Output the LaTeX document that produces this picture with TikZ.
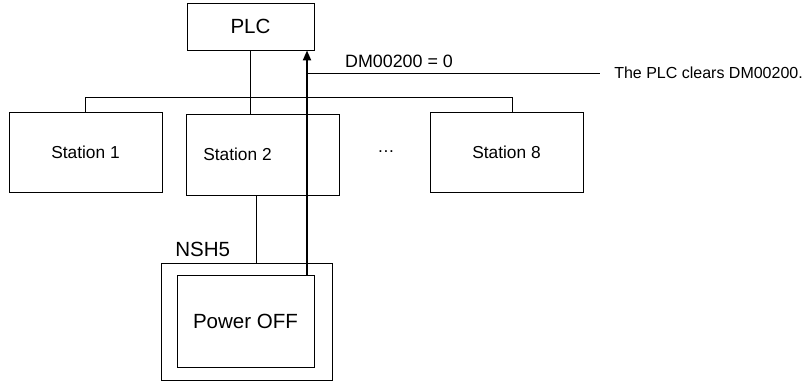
\documentclass[tikz,border=0pt]{standalone}
\usepackage{fontspec}
\setmainfont{Liberation Sans}
\usepackage{tikz}
\usetikzlibrary{arrows.meta, positioning, calc}

\begin{document}
\begin{tikzpicture}[x=0.75pt, y=-0.75pt,
    box/.style={draw, line width=0.6pt, inner sep=0pt, font=\fontsize{13}{15}\selectfont},
    bigfont/.style={font=\fontsize{15.4}{18}\selectfont},
    wire/.style={line width=0.6pt}]
  \useasboundingbox (0,0) rectangle (803,383);
  % controller and stations
  \node[box, bigfont, minimum width=95.25pt, minimum height=35.25pt] (plc) at (250.5,26.5) {PLC};
  \node[box, minimum width=114.75pt, minimum height=60pt] (sta1) at (85.5,152) {Station 1};
  \node[box, minimum width=114.75pt, minimum height=60.75pt] (sta2) at (262.5,154.5) {Station 2\hspace*{37.5pt}};
  \node[box, minimum width=114.75pt, minimum height=60pt] (sta8) at (506.5,152) {Station 8};
  \node[font=\fontsize{13}{15}\selectfont] (dots) at (386,152) {\dots};
  % terminal
  \node[draw, line width=0.6pt, minimum width=128.25pt, minimum height=87.75pt, inner sep=0pt] (nsh) at (246.5,321.5) {};
  \node[bigfont, anchor=south west, inner sep=0pt] (nshlbl) at (175,257) {NSH5};
  \node[box, bigfont, minimum width=102.75pt, minimum height=69pt] (pw) at (245.5,321) {Power OFF};
  % bus
  \coordinate (bus) at (0,97);
  \coordinate (drop) at (256,0);
  \coordinate (drop8) at (512,0);
  \coordinate (tap) at (307,73);
  \draw[wire] (sta1.north) -- (sta1.north |- bus) -- (drop8 |- bus) -- (sta8.north -| drop8);
  \draw[wire] (plc.south) -- (plc.south |- sta2.north);
  \draw[wire] (sta2.south -| drop) -- (nsh.north -| drop);
  % signal
  \draw[-{Triangle[length=7.5pt, width=6pt]}, line width=1.5pt] (pw.north -| tap) -- (plc.south -| tap);
  \node[font=\fontsize{13.4}{16}\selectfont] (dm) at (399,61) {DM00200 = 0};
  \node[anchor=west, inner sep=0pt, font=\fontsize{12}{14}\selectfont] (note) at (614,73) {The PLC clears DM00200.};
  \draw[wire] (tap) -- ([xshift=-10.5pt]note.west);
\end{tikzpicture}
\end{document}
